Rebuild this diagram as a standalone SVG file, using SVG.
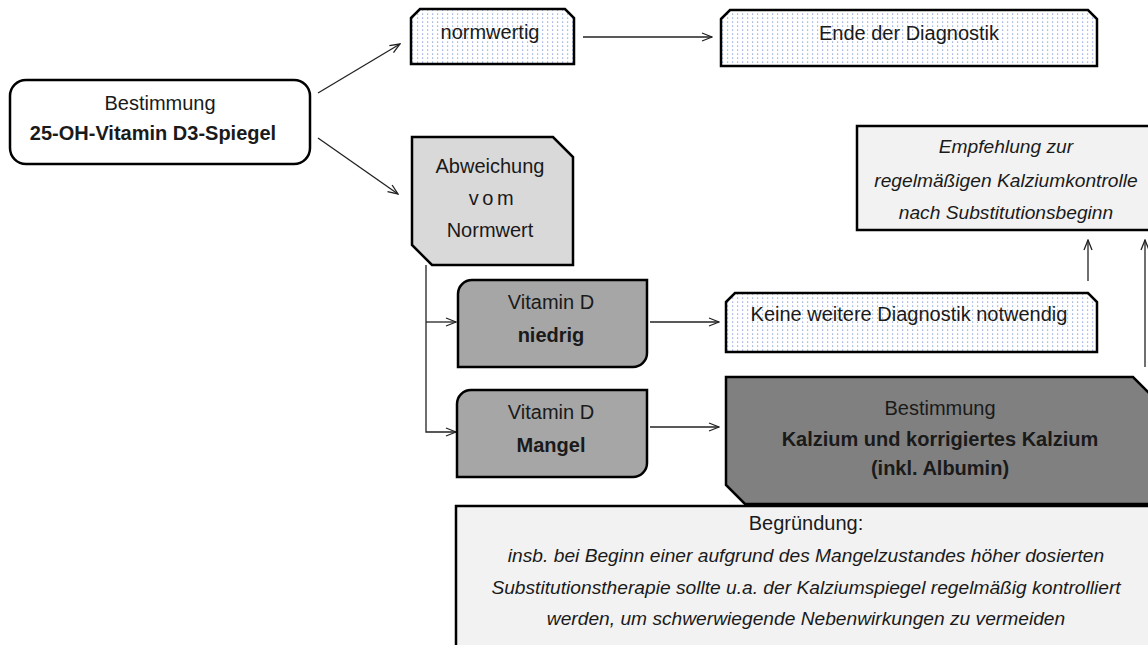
<svg xmlns="http://www.w3.org/2000/svg" width="1148" height="645" viewBox="0 0 1148 645">
  <defs>
    <pattern id="dots" width="5" height="4" patternUnits="userSpaceOnUse">
      <rect width="5" height="4" fill="#ffffff"/>
      <rect x="2" y="1.5" width="1.2" height="1.2" fill="#86a0da"/>
    </pattern>
    <marker id="arrow" viewBox="0 0 12 10" refX="11" refY="5" markerWidth="12" markerHeight="10" markerUnits="userSpaceOnUse" orient="auto">
      <path d="M1,1 L11,5 L1,9" fill="none" stroke="#222" stroke-width="1.3"/>
    </marker>
  </defs>
  <style>
    .box { stroke: #000; stroke-width: 2.5; stroke-linejoin: miter; }
    .dot { fill: url(#dots); }
    .t { font-family: "Liberation Sans", Arial, sans-serif; font-size: 20px; fill: #1a1a1a; text-anchor: middle; }
    .b { font-weight: bold; }
    .i { font-style: italic; font-size: 19.2px; }
    .conn { fill: none; stroke: #222; stroke-width: 1.3; }
  </style>

  <rect width="1148" height="645" fill="#ffffff"/>

  <!-- connectors -->
  <g id="connectors">
    <path class="conn" d="M318,93 L400,44" marker-end="url(#arrow)"/>
    <path class="conn" d="M318,138 L398,194" marker-end="url(#arrow)"/>
    <path class="conn" d="M583,37 L712,37" marker-end="url(#arrow)"/>
    <path class="conn" d="M426,265 L426,432 L456,432" marker-end="url(#arrow)"/>
    <path class="conn" d="M426,322 L456,322" marker-end="url(#arrow)"/>
    <path class="conn" d="M650,322 L719,322" marker-end="url(#arrow)"/>
    <path class="conn" d="M650,427 L719,427" marker-end="url(#arrow)"/>
    <path class="conn" d="M1088,281 L1088,240" marker-end="url(#arrow)"/>
    <path class="conn" d="M1145,367 L1145,240" marker-end="url(#arrow)"/>
  </g>

  <!-- start: measurement -->
  <g id="node-bestimmung-vitd">
    <rect class="box" x="10" y="80" width="300" height="84" rx="16" fill="#ffffff"/>
    <text class="t" x="160" y="110">Bestimmung</text>
    <text class="t b" x="153" y="140">25-OH-Vitamin D3-Spiegel</text>
  </g>

  <g id="node-normwertig">
    <path class="box dot" d="M411,18 L420,9 L565,9 L574,18 L574,64 L411,64 Z"/>
    <text class="t" x="490" y="39">normwertig</text>
  </g>

  <g id="node-ende">
    <path class="box dot" d="M721,19 L730,10 L1088,10 L1097,19 L1097,66 L721,66 Z"/>
    <text class="t" x="909" y="40">Ende der Diagnostik</text>
  </g>

  <g id="node-abweichung">
    <path class="box" d="M412,137 L553,137 L573,157 L573,265 L432,265 L412,245 Z" fill="#d9d9d9"/>
    <text class="t" x="490" y="173">Abweichung</text>
    <text class="t" x="493" y="205" letter-spacing="3.5">vom</text>
    <text class="t" x="490" y="237">Normwert</text>
  </g>

  <g id="node-niedrig">
    <path class="box" d="M472,280 L647,280 L647,353 A14,14 0 0 1 633,367 L458,367 L458,294 A14,14 0 0 1 472,280 Z" fill="#a6a6a6"/>
    <text class="t" x="551" y="309">Vitamin D</text>
    <text class="t b" x="551" y="342">niedrig</text>
  </g>

  <g id="node-mangel">
    <path class="box" d="M471,390 L647,390 L647,463 A14,14 0 0 1 633,477 L457,477 L457,404 A14,14 0 0 1 471,390 Z" fill="#a6a6a6"/>
    <text class="t" x="551" y="419">Vitamin D</text>
    <text class="t b" x="551" y="452">Mangel</text>
  </g>

  <g id="node-keine">
    <path class="box dot" d="M726,302 L735,293 L1088,293 L1097,302 L1097,352 L726,352 Z"/>
    <text class="t" x="909" y="321">Keine weitere Diagnostik notwendig</text>
  </g>

  <g id="node-empfehlung">
    <rect class="box" x="857" y="126" width="300" height="104" fill="#f2f2f2"/>
    <text class="t i" x="1006" y="153">Empfehlung zur</text>
    <text class="t i" x="1006" y="187">regelmäßigen Kalziumkontrolle</text>
    <text class="t i" x="1006" y="219">nach Substitutionsbeginn</text>
  </g>

  <g id="node-kalzium">
    <path class="box" d="M726,377 L1133,377 L1153,397 L1153,504 L745,504 L726,485 Z" fill="#808080"/>
    <text class="t" x="940" y="415">Bestimmung</text>
    <text class="t b" x="940" y="446">Kalzium und korrigiertes Kalzium</text>
    <text class="t b" x="940" y="475">(inkl. Albumin)</text>
  </g>

  <g id="node-begruendung">
    <rect class="box" x="456" y="506" width="700" height="160" fill="#f2f2f2"/>
    <text class="t" x="806" y="530">Begründung:</text>
    <text class="t i" x="806" y="562">insb. bei Beginn einer aufgrund des Mangelzustandes höher dosierten</text>
    <text class="t i" x="806" y="594">Substitutionstherapie sollte u.a. der Kalziumspiegel regelmäßig kontrolliert</text>
    <text class="t i" x="806" y="625">werden, um schwerwiegende Nebenwirkungen zu vermeiden</text>
  </g>
</svg>
